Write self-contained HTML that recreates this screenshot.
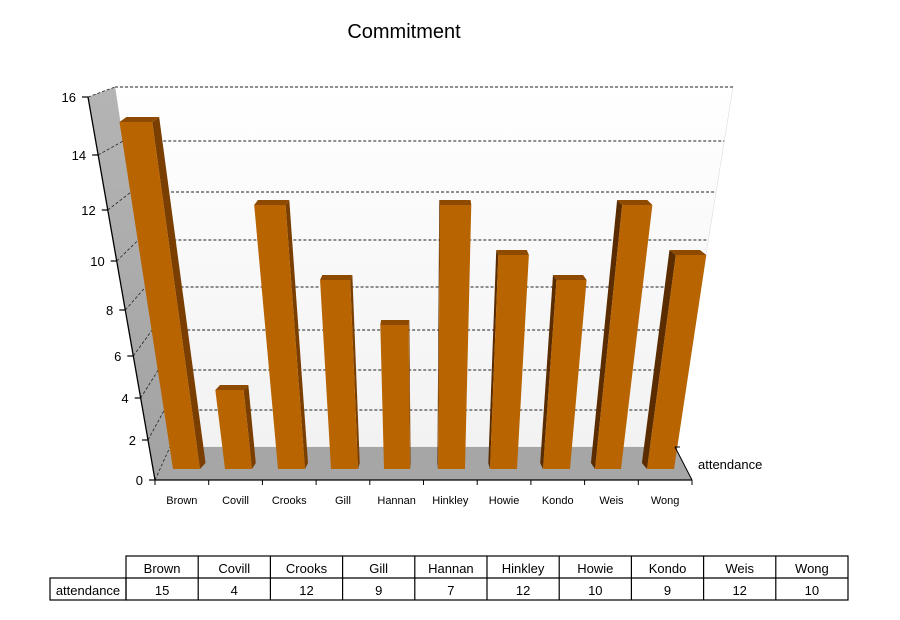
<!DOCTYPE html>
<html><head><meta charset="utf-8"><style>
body{margin:0;background:#fff;width:900px;height:620px;overflow:hidden}
svg{display:block;font-family:"Liberation Sans","DejaVu Sans",sans-serif}
</style></head><body>
<svg id="s" width="900" height="620" viewBox="0 0 900 620">
<defs>
<linearGradient id="bw" x1="0" y1="0" x2="0" y2="1"><stop offset="0" stop-color="#ffffff"/><stop offset="1" stop-color="#f2f2f2"/></linearGradient>
<linearGradient id="lw" x1="0" y1="0" x2="0" y2="1"><stop offset="0" stop-color="#b4b4b4"/><stop offset="1" stop-color="#a2a2a2"/></linearGradient>
</defs>
<text x="404" y="38" font-size="20" text-anchor="middle">Commitment</text>
<polygon points="115,87 733,87 675,447 170,447" fill="url(#bw)" stroke="#ddd" stroke-width="0.6"/>
<polygon points="88,97 115,87 170,447 155,480" fill="url(#lw)"/>
<polygon points="155,480 692,480 675,447 170,447" fill="#a6a6a6"/>
<g id="grid"></g>
<g id="bars"></g>
<line x1="88" y1="97" x2="155" y2="480" stroke="#000" stroke-width="1.3"/>
<line x1="155" y1="480" x2="692" y2="480" stroke="#000" stroke-width="1.3"/>
<line x1="675" y1="447" x2="692" y2="480" stroke="#000" stroke-width="1"/>
<line x1="675" y1="447" x2="680" y2="447" stroke="#000" stroke-width="1"/>
<text x="698" y="469" font-size="13">attendance</text>
<g id="ax" font-size="13"></g>
<g id="tbl" font-size="13"></g>
</svg>
<script>
var NS="http://www.w3.org/2000/svg";
function el(p,t,a,txt){var e=document.createElementNS(NS,t);for(var k in a)e.setAttribute(k,a[k]);if(txt!=null)e.textContent=txt;document.getElementById(p).appendChild(e);return e;}
var back=[447,410,370,330,287,240,192,141,87], front=[480,440,398,356,310,261,210,155,97];
for(var i=0;i<9;i++){
 var yb=back[i], yf=front[i];
 var xl=115+(yb-87)*55/360, xr=733-(yb-87)*58/360, xf=155-(480-yf)*67/383;
 if(i>0) el("grid","line",{x1:xl,y1:yb,x2:xr,y2:yb,stroke:"#222","stroke-width":0.9,"stroke-dasharray":"3,2"});
 el("grid","line",{x1:xf,y1:yf,x2:xl,y2:yb,stroke:"#222","stroke-width":0.8,"stroke-dasharray":"3,2"});
 el("ax","line",{x1:xf-6,y1:yf,x2:xf,y2:yf,stroke:"#000","stroke-width":1.2});
 el("ax","text",{x:xf-12,y:yf+5,"text-anchor":"end"},String(i*2));
}
var names=["Brown","Covill","Crooks","Gill","Hannan","Hinkley","Howie","Kondo","Weis","Wong"];
var vals=[15,4,12,9,7,12,10,9,12,10];
var bars=[[173,200,122],[225,252,390],[278,305,205],[331,358,280],[384,410,325],[438,465,205],[490,517,255],[543,570,280],[595,621,205],[647,674,255]];
var VX=426,VY=2110,B=469;
function tx(x,y){return VX+(x-VX)*(VY-y)/(VY-B);}
bars.forEach(function(b){
 var xl=b[0],xr=b[1],yt=b[2];
 var tl=tx(xl,yt),tr=tx(xr,yt);
 var xc=(tl+tr)/2, dx=(VX-xc)*0.024, dy=-5;
 var bdx=dx*0.8, bdy=-6;
 if(dx>0){
  el("bars","polygon",{points:[tr,yt,tr+dx,yt+dy,xr+bdx,B+bdy,xr,B].join(" "),fill:"#7a3e00"});
 } else {
  el("bars","polygon",{points:[tl,yt,tl+dx,yt+dy,xl+bdx,B+bdy,xl,B].join(" "),fill:"#5a2c00"});
 }
 el("bars","polygon",{points:[tl,yt,tr,yt,tr+dx,yt+dy,tl+dx,yt+dy].join(" "),fill:"#8e4a00"});
 el("bars","polygon",{points:[tl,yt,tr,yt,xr,B,xl,B].join(" "),fill:"#b86400"});
});
var w=(692-155)/10;
for(var i=0;i<=10;i++){var x=155+i*w;el("ax","line",{x1:x,y1:480,x2:x,y2:485,stroke:"#000","stroke-width":1});}
names.forEach(function(n,i){el("ax","text",{x:155+(i+0.5)*w,y:504,"text-anchor":"middle","font-size":11},n);});
var cw=(848-126)/10;
el("tbl","rect",{x:126,y:556,width:722,height:44,fill:"none",stroke:"#000","stroke-width":1.2});
el("tbl","rect",{x:50,y:578,width:76,height:22,fill:"none",stroke:"#000","stroke-width":1.2});
el("tbl","line",{x1:126,y1:578,x2:848,y2:578,stroke:"#000","stroke-width":1.2});
for(var i=1;i<10;i++){var x=126+i*cw;el("tbl","line",{x1:x,y1:556,x2:x,y2:600,stroke:"#000","stroke-width":1.2});}
names.forEach(function(n,i){var x=126+(i+0.5)*cw;el("tbl","text",{x:x,y:573,"text-anchor":"middle"},n);el("tbl","text",{x:x,y:595,"text-anchor":"middle"},String(vals[i]));});
el("tbl","text",{x:88,y:595,"text-anchor":"middle"},"attendance");
</script>
</body></html>
